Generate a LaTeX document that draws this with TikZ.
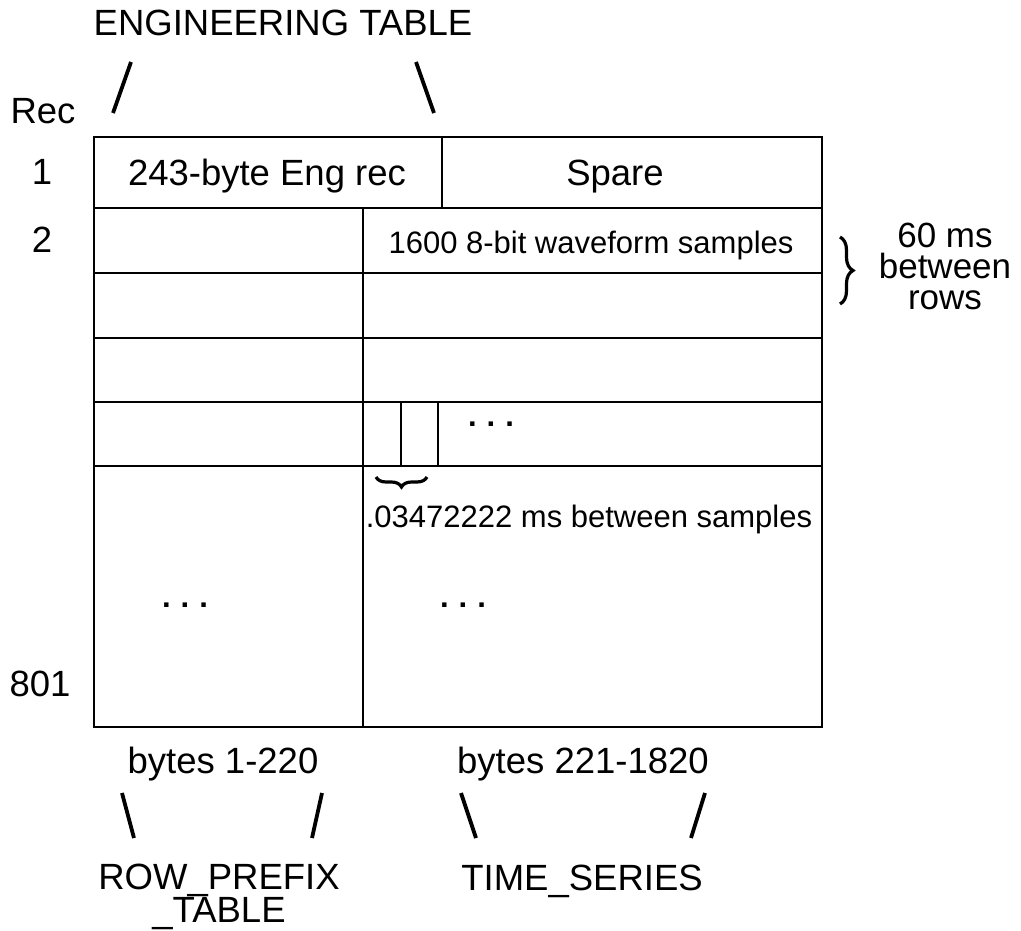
\documentclass[tikz,border=0pt]{standalone}
\usepackage{fontspec}
\setmainfont{Liberation Sans}
\usetikzlibrary{decorations.pathreplacing}
\begin{document}
\begin{tikzpicture}[x=1pt,y=-1pt,
  big/.style={font=\fontsize{36.5}{33}\selectfont, inner sep=0pt, anchor=base, align=center},
  small/.style={font=\fontsize{31}{33}\selectfont, inner sep=0pt, anchor=base},
  dots/.style={font=\fontsize{31}{33}\selectfont\bfseries, inner sep=0pt, anchor=base},
  side/.style={font=\fontsize{35}{31}\selectfont, inner sep=0pt, anchor=base, align=center},
  gridline/.style={line width=2.2pt},
  slash/.style={line width=3.8pt},
  brc/.style={decorate, line width=3.2pt}]
\useasboundingbox (0,0) rectangle (1021,930);

% titles and record labels
\node[big] (title) at (283,35) {ENGINEERING TABLE};
\node[big] (rec) at (43,123) {Rec};
\node[big] (r1) at (42,184) {1};
\node[big] (r2) at (42,252) {2};
\node[big] (r801) at (40,696) {801};

% top slashes
\coordinate (t1a) at (131,62); \coordinate (t1b) at (113,113);
\coordinate (t2a) at (416,62); \coordinate (t2b) at (434,113);
\draw[slash] (t1a) -- (t1b);
\draw[slash] (t2a) -- (t2b);

% table
\draw[gridline] (94,137) rectangle (822,727);
\foreach \yy in {208,273,338,402,466} \draw[gridline] (94,\yy) -- (822,\yy);
\draw[gridline] (442,137) -- (442,208);
\draw[gridline] (363,208) -- (363,727);
\draw[gridline] (401,402) -- (401,466);
\draw[gridline] (438,402) -- (438,466);

% cell texts
\node[big] (eng) at (267,185) {243-byte Eng rec};
\node[big] (spare) at (615,185) {Spare};
\node[small] (wave) at (591,253) {1600 8-bit waveform samples};
\node[dots] (dots1) at (491,426) {.\hspace{10pt}.\hspace{10pt}.};
\node[small] (interval) at (589,527) {.03472222 ms between samples};
\node[dots] (dots2) at (185,607) {.\hspace{10pt}.\hspace{10pt}.};
\node[dots] (dots3) at (463,607) {.\hspace{10pt}.\hspace{10pt}.};

% braces
\coordinate (ba) at (427,477); \coordinate (bb) at (376,477);
\draw[brc, decoration={brace, amplitude=10pt}] (ba) -- (bb);
\coordinate (rba) at (840,237); \coordinate (rbb) at (840,304);
\draw[brc, decoration={brace, amplitude=13pt}] (rba) -- (rbb);
\node[side] (rows) at (945,309) {60 ms\\between\\rows};

% bottom labels
\node[big] (b1) at (223,773) {bytes 1-220};
\node[big] (b2) at (583,773) {bytes 221-1820};
\coordinate (s1a) at (122,793); \coordinate (s1b) at (134,838);
\coordinate (s2a) at (322,793); \coordinate (s2b) at (312,838);
\coordinate (s3a) at (461,793); \coordinate (s3b) at (476,838);
\coordinate (s4a) at (705,793); \coordinate (s4b) at (691,838);
\draw[slash] (s1a) -- (s1b);
\draw[slash] (s2a) -- (s2b);
\draw[slash] (s3a) -- (s3b);
\draw[slash] (s4a) -- (s4b);
\node[big] (rp) at (219,922) {ROW\_PREFIX\\\_TABLE};
\node[big] (ts) at (582,890) {TIME\_SERIES};
\end{tikzpicture}
\end{document}
